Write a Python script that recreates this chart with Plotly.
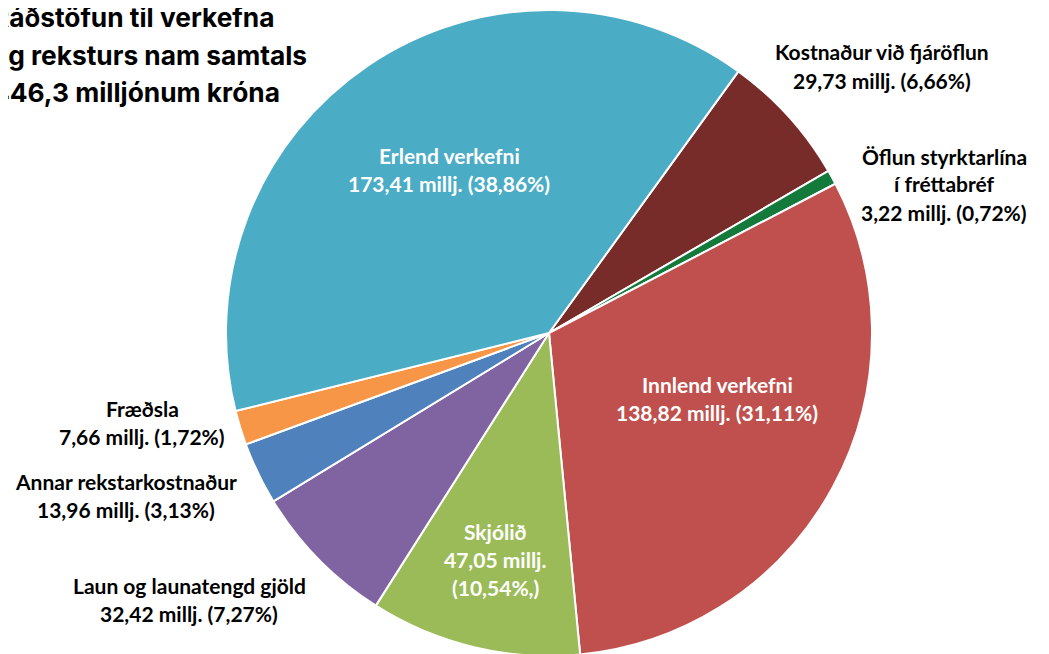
import plotly.graph_objects as go

categories = ["Kostnaður við fjáröflun", "Öflun styrktarlína í fréttabréf", "Innlend verkefni",
              "Skjólið", "Laun og launatengd gjöld", "Annar rekstarkostnaður", "Fræðsla", "Erlend verkefni"]
values = [29.73, 3.22, 138.82, 47.05, 32.42, 13.96, 7.66, 173.41]
colors = ["#772C2A", "#137A3B", "#C0504D", "#9BBB59", "#8064A2", "#4F81BD", "#F79646", "#4BACC6"]

label_lines = [
    ["Kostnaður við fjáröflun", "29,73 millj. (6,66%)"],
    ["Öflun styrktarlína", "í fréttabréf", "3,22 millj. (0,72%)"],
    ["Innlend verkefni", "138,82 millj. (31,11%)"],
    ["Skjólið", "47,05 millj.", "(10,54%,)"],
    ["Laun og launatengd gjöld", "32,42 millj. (7,27%)"],
    ["Annar rekstarkostnaður", "13,96 millj. (3,13%)"],
    ["Fræðsla", "7,66 millj. (1,72%)"],
    ["Erlend verkefni", "173,41 millj. (38,86%)"],
]
label_inside = [False, False, True, True, False, False, False, True]
# label anchor (x center, y of first line) in page pixels, and line spacing
label_pos = [(882, 52), (944, 156), (717, 384), (495, 531), (189, 585), (126, 481), (142, 408), (449, 155)]
line_gap = 28

title_lines = ["Ráðstöfun til verkefna", "og reksturs nam samtals", "446,3 milljónum króna"]

OFF = 8  # page body margin of the written html
W, H = 1049, 654
R = 323
cx, cy = 549 - OFF, 333 - OFF

fig = go.Figure(go.Pie(
    labels=categories, values=values, sort=False, direction="clockwise",
    rotation=35.9, textinfo="none", hoverinfo="label+value+percent",
    marker=dict(colors=colors, line=dict(color="white", width=2)),
    domain=dict(x=[(cx - R) / W, (cx + R) / W], y=[(H - cy - R) / H, (H - cy + R) / H]),
    showlegend=False,
))

anns = []
for lines, inside, (px, py) in zip(label_lines, label_inside, label_pos):
    for i, ln in enumerate(lines):
        anns.append(dict(
            x=(px - OFF) / W, y=1 - (py - OFF + i * line_gap) / H, xref="paper", yref="paper",
            text=ln, showarrow=False, xanchor="center", yanchor="middle",
            font=dict(family="Lato", size=21, color="white" if inside else "black", weight="bold"),
        ))

for i, ln in enumerate(title_lines):
    anns.append(dict(
        x=(-10 - OFF) / W, y=1 - (18 - OFF + i * 37) / H, xref="paper", yref="paper",
        text=ln, showarrow=False, xanchor="left", yanchor="middle",
        font=dict(family="Inter", size=26.3, color="black", weight="bold"),
    ))

fig.update_layout(
    width=W, height=H, margin=dict(l=0, r=0, t=0, b=0),
    paper_bgcolor="white", plot_bgcolor="white", annotations=anns,
)

fig.write_html("out.html")
